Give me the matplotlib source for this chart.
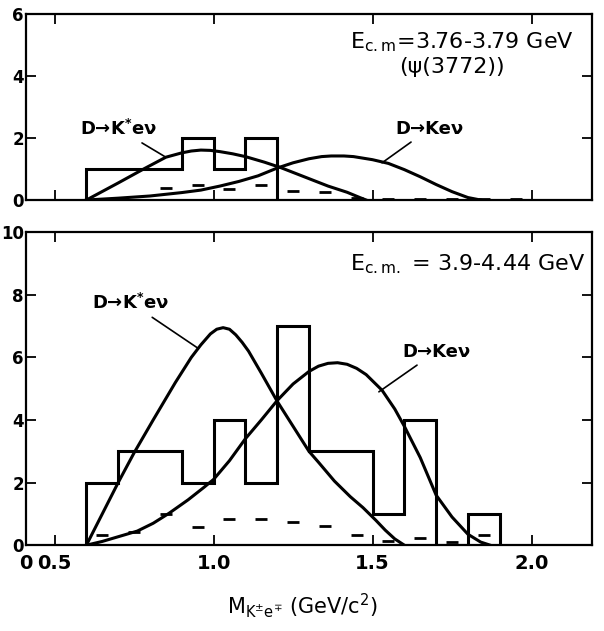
import numpy as np
import matplotlib
matplotlib.use("Agg")
from matplotlib import pyplot as plt

plt.rcParams['font.family'] = ['DejaVu Sans']
plt.rcParams['mathtext.default'] = 'regular'

# histogram bins (GeV/c^2) and entries
edges = [0.6, 0.7, 0.8, 0.9, 1.0, 1.1, 1.2, 1.3, 1.4, 1.5, 1.6, 1.7, 1.8, 1.9]
top_counts = [1, 1, 1, 2, 1, 2]
bot_counts = [2, 3, 3, 2, 4, 2, 7, 3, 3, 1, 4, 0, 1]

# background estimate (dashes at bin centres)
top_bg_x = [0.85, 0.95, 1.05, 1.15, 1.25, 1.35, 1.45, 1.55, 1.65, 1.75, 1.85, 1.95]
top_bg_y = [0.38, 0.50, 0.37, 0.50, 0.28, 0.25, 0.08, 0.03, 0.03, 0.03, 0.02, 0.02]
bot_bg_x = [0.65, 0.75, 0.85, 0.95, 1.05, 1.15, 1.25, 1.35, 1.45, 1.55, 1.65, 1.75, 1.85]
bot_bg_y = [0.32, 0.43, 1.0, 0.58, 0.83, 0.83, 0.73, 0.61, 0.32, 0.14, 0.22, 0.11, 0.32]

# D -> K* e nu curves
top_kst_x = [0.60, 0.70, 0.78, 0.85, 0.90, 0.93, 0.96, 0.99, 1.02, 1.06, 1.10, 1.16, 1.21, 1.26, 1.31,
             1.36, 1.42, 1.46, 1.48]
top_kst_y = [0.0, 0.55, 1.0, 1.38, 1.52, 1.58, 1.61, 1.60, 1.56, 1.49, 1.40, 1.22, 1.05, 0.85, 0.65,
             0.45, 0.25, 0.08, 0.0]
bot_kst_x = [0.60, 0.65, 0.70, 0.75, 0.81, 0.88, 0.93, 0.96, 0.99, 1.01, 1.03, 1.05, 1.07, 1.09, 1.11,
             1.15, 1.20, 1.25, 1.30, 1.33, 1.38, 1.43, 1.47, 1.51, 1.54, 1.57, 1.60]
bot_kst_y = [0.0, 1.0, 2.0, 2.95, 4.0, 5.2, 6.0, 6.4, 6.75, 6.9, 6.95, 6.9, 6.72, 6.48, 6.2,
             5.5, 4.6, 3.8, 3.0, 2.65, 2.05, 1.55, 1.2, 0.8, 0.48, 0.2, 0.0]

# D -> K e nu curves
top_k_x = [0.60, 0.70, 0.80, 0.90, 0.96, 1.02, 1.08, 1.14, 1.20, 1.25, 1.30, 1.34, 1.37, 1.41, 1.44,
           1.50, 1.55, 1.60, 1.65, 1.70, 1.75, 1.80, 1.84]
top_k_y = [0.0, 0.06, 0.13, 0.24, 0.32, 0.45, 0.60, 0.78, 1.03, 1.20, 1.33, 1.40, 1.42, 1.42, 1.40,
           1.30, 1.18, 0.98, 0.75, 0.50, 0.27, 0.08, 0.0]
bot_k_x = [0.60, 0.65, 0.70, 0.76, 0.81, 0.86, 0.92, 0.97, 1.00, 1.05, 1.10, 1.15, 1.20, 1.25, 1.30,
           1.33, 1.36, 1.39, 1.42, 1.45, 1.48, 1.53, 1.57, 1.60, 1.65, 1.70, 1.75, 1.80, 1.84, 1.87]
bot_k_y = [0.0, 0.12, 0.27, 0.45, 0.7, 1.02, 1.45, 1.85, 2.1, 2.7, 3.4, 4.0, 4.62, 5.15, 5.55,
           5.72, 5.81, 5.83, 5.78, 5.65, 5.45, 4.95, 4.35, 3.8, 2.8, 1.6, 0.9, 0.35, 0.1, 0.0]

xticks = [0.41, 0.5, 1.0, 1.5, 2.0]
xticklabels = ['0', '0.5', '1.0', '1.5', '2.0']

fig = plt.figure(figsize=(6.04, 6.31), dpi=100)
ax_top = fig.add_axes([0.043, 0.683, 0.937, 0.295])
ax_bot = fig.add_axes([0.043, 0.136, 0.937, 0.496])


def style(ax, ymax):
    ax.set_xlim(0.41, 2.19)
    ax.set_ylim(0, ymax)
    ax.set_yticks(range(0, ymax + 1, 2))
    ax.set_xticks(xticks)
    for s in ax.spines.values():
        s.set_linewidth(1.6)
    ax.tick_params(direction='in', top=True, right=True, length=7, width=1.3)
    ax.tick_params(axis='x', labelsize=14, pad=6)
    ax.tick_params(axis='y', labelsize=12, pad=1.5)
    for lab in ax.get_yticklabels() + ax.get_xticklabels():
        lab.set_fontweight('bold')


def draw(ax, counts, kst_x, kst_y, k_x, k_y, bg_x, bg_y):
    ax.stairs(counts, edges[:len(counts) + 1], color='black', lw=2.2, baseline=0)
    ax.plot(kst_x, kst_y, color='black', lw=2.2)
    ax.plot(k_x, k_y, color='black', lw=2.2)
    ax.plot(bg_x, bg_y, ls='none', marker='_', ms=9, mew=2.0, color='black')


draw(ax_top, top_counts, top_kst_x, top_kst_y, top_k_x, top_k_y, top_bg_x, top_bg_y)
draw(ax_bot, bot_counts, bot_kst_x, bot_kst_y, bot_k_x, bot_k_y, bot_bg_x, bot_bg_y)
style(ax_top, 6)
style(ax_bot, 10)
ax_top.set_xticklabels([])
ax_bot.set_xticklabels(xticklabels)

line = dict(arrowstyle='-', lw=1.2, color='black', shrinkA=2, shrinkB=0)
txt = dict(fontsize=13, fontweight='bold', ha='center', va='center')

# upper panel labels
ax_top.text(1.78, 5.08, r'E$_{\rm c.m}$=3.76-3.79 GeV', fontsize=16, ha='center', va='center')
ax_top.text(1.75, 4.28, '(\u03c8(3772))', fontsize=16, ha='center', va='center')
ax_top.annotate('D\u2192K$^{*}$e\u03bd', xy=(0.85, 1.38), xytext=(0.70, 2.3),
                arrowprops=line, **txt)
ax_top.annotate('D\u2192Ke\u03bd', xy=(1.53, 1.20), xytext=(1.68, 2.3),
                arrowprops=line, **txt)

# lower panel labels
ax_bot.text(1.80, 8.97, r'E$_{\rm c.m.}$ = 3.9-4.44 GeV', fontsize=16, ha='center', va='center')
ax_bot.annotate('D\u2192K$^{*}$e\u03bd', xy=(0.95, 6.3), xytext=(0.74, 7.74),
                arrowprops=line, **txt)
ax_bot.annotate('D\u2192Ke\u03bd', xy=(1.52, 4.9), xytext=(1.70, 6.18),
                arrowprops=line, **txt)

fig.text(0.5, 0.04, r'M$_{\rm K^{\pm}e^{\mp}}$ (GeV/c$^{2}$)', fontsize=15,
         ha='center', va='center')

fig.savefig('out.png', dpi=100)
